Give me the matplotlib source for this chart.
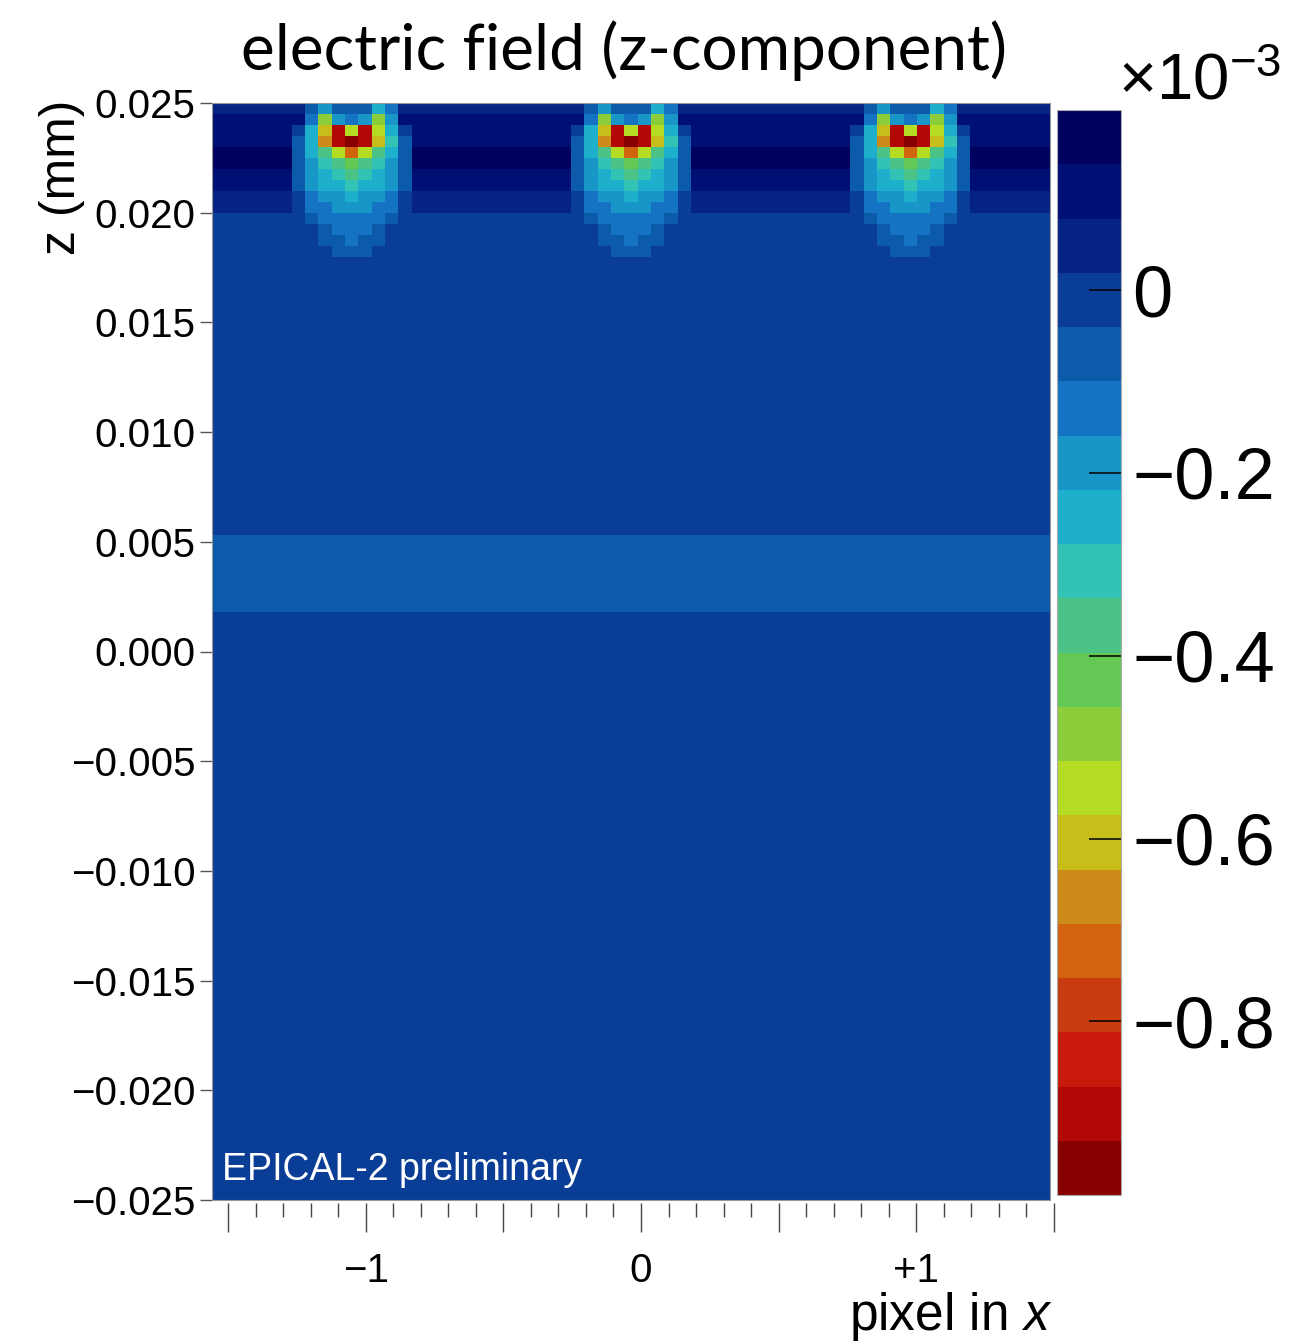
import matplotlib
matplotlib.use("Agg")
import matplotlib.pyplot as plt
import numpy as np
from matplotlib.colors import ListedColormap, BoundaryNorm
from matplotlib.ticker import FixedLocator, MultipleLocator

plt.rcParams['font.family'] = ['Liberation Sans', 'DejaVu Sans']
plt.rcParams['mathtext.fontset'] = 'custom'
plt.rcParams['mathtext.rm'] = 'Liberation Sans'
plt.rcParams['mathtext.it'] = 'Liberation Sans:italic'

# palette levels, lowest (dark red) to highest (navy)
palette = ['#870000', '#b20805', '#c8190a', '#c83c0f', '#d2640f',
           '#cd8c19', '#c8be19', '#b4dc23', '#8ccd3c', '#64c855',
           '#4bc387', '#32c3b4', '#1eafcd', '#1996c8', '#1473c3',
           '#0c5aaa', '#0a3e96', '#052382', '#000f73', '#00005f']
field_min = -0.99   # x 1e-3
field_max = 0.197

# background field of the top rows (0.0005 mm each, from z = 0.025 down)
top_rows_bg = [0.05, 0.11, 0.11, 0.12, 0.17, 0.17, 0.12, 0.10, 0.06, 0.04,
               -0.01, -0.01, -0.01, -0.01]
# background layers below the top rows
layer_edges = [-0.025, 0.0018, 0.0053, 0.018]
layer_values = [-0.01, -0.07, -0.01]

# field under one pixel electrode: columns -5..+5 round its centre,
# same rows as top_rows_bg (nan = background)
nan = float('nan')
hotspot = [
    [nan, nan, -0.07, -0.19, -0.07, -0.07, -0.07, -0.25, -0.13, nan, nan],
    [nan, nan, -0.13, -0.49, -0.19, -0.13, -0.19, -0.49, -0.19, nan, nan],
    [nan, -0.01, -0.25, -0.60, -0.90, -0.55, -0.90, -0.55, -0.25, -0.01, nan],
    [nan, -0.07, -0.25, -0.66, -0.90, -0.96, -0.90, -0.60, -0.31, -0.07, nan],
    [nan, -0.07, -0.25, -0.37, -0.55, -0.72, -0.55, -0.37, -0.25, -0.07, nan],
    [nan, -0.07, -0.19, -0.31, -0.37, -0.43, -0.37, -0.31, -0.19, -0.07, nan],
    [nan, -0.07, -0.19, -0.25, -0.31, -0.37, -0.31, -0.25, -0.19, -0.07, nan],
    [nan, -0.07, -0.19, -0.25, -0.25, -0.31, -0.25, -0.25, -0.19, -0.07, nan],
    [nan, -0.01, -0.13, -0.19, -0.19, -0.25, -0.19, -0.19, -0.13, -0.01, nan],
    [nan, -0.01, -0.13, -0.13, -0.19, -0.19, -0.19, -0.13, -0.13, -0.01, nan],
    [nan, nan, -0.07, -0.13, -0.13, -0.13, -0.13, -0.13, -0.07, nan, nan],
    [nan, nan, nan, -0.07, -0.13, -0.13, -0.13, -0.07, nan, nan, nan],
    [nan, nan, nan, -0.07, -0.07, -0.13, -0.07, -0.07, nan, nan, nan],
    [nan, nan, nan, nan, -0.07, -0.07, -0.07, nan, nan, nan, nan],
]
pixel_centres = [-1, 0, 1]
cols_per_pixel = 21
row_height = 0.0005

y_ticks = [0.025, 0.020, 0.015, 0.010, 0.005, 0.0, -0.005, -0.010,
           -0.015, -0.020, -0.025]
cbar_ticks = [0, -0.2, -0.4, -0.6, -0.8]


def fmt_minus(s):
    return s.replace('-', '\u2212')


# ---- build the grid ----
n_cols = cols_per_pixel * len(pixel_centres)
x_edges = np.linspace(-1.5, 1.5, n_cols + 1)
n_top = len(top_rows_bg)
top_edges = 0.025 - row_height * np.arange(n_top, -1, -1)
z_edges = np.concatenate([layer_edges[:-1], top_edges])

field = np.empty((len(z_edges) - 1, n_cols))
for i, v in enumerate(layer_values):
    field[i, :] = v
n_layers = len(layer_values)
for r in range(n_top):
    field[n_layers + n_top - 1 - r, :] = top_rows_bg[r]

hot = np.array(hotspot, dtype=float)
half = hot.shape[1] // 2
for p in range(len(pixel_centres)):
    c0 = p * cols_per_pixel + cols_per_pixel // 2
    for r in range(n_top):
        zi = n_layers + n_top - 1 - r
        for j in range(hot.shape[1]):
            if not np.isnan(hot[r, j]):
                field[zi, c0 - half + j] = hot[r, j]

cmap = ListedColormap(palette)
norm = BoundaryNorm(np.linspace(field_min, field_max, len(palette) + 1), len(palette))

W, H = 1302, 1342
fig = plt.figure(figsize=(W / 100, H / 100), dpi=100)


def box(x0, y0, x1, y1):
    return [x0 / W, 1 - y1 / H, (x1 - x0) / W, (y1 - y0) / H]


ax = fig.add_axes(box(212, 103, 1050, 1200))
mesh = ax.pcolormesh(x_edges, z_edges, field, cmap=cmap, norm=norm)
ax.set_xlim(-1.5, 1.5)
ax.set_ylim(-0.025, 0.025)
ax.set_xticks([])
ax.set_yticks(y_ticks)
ax.set_yticklabels([fmt_minus(f"{v:.3f}") if abs(v) > 1e-9 else "0.000" for v in y_ticks])
ax.tick_params(axis='y', direction='out', length=9, width=1.0, color='#555555',
               labelsize=29, pad=3)
for s in ax.spines.values():
    s.set_color('#999999')
    s.set_linewidth(0.8)

ax.text(0.012, 0.018, "EPICAL-2 preliminary", transform=ax.transAxes,
        color='white', fontsize=27, va='baseline', ha='left')

# separate x axis, drawn a little offset like in the original
axx = fig.add_axes(box(228, 1202, 1054, 1203))
axx.set_xlim(-1.5, 1.5)
axx.set_yticks([])
for s in axx.spines.values():
    s.set_visible(False)
axx.patch.set_visible(False)
axx.xaxis.set_major_locator(FixedLocator([-1.5, -1, -0.5, 0, 0.5, 1, 1.5]))
axx.set_xticklabels(['', '\u22121', '', '0', '', '+1', ''])
axx.xaxis.set_minor_locator(MultipleLocator(0.1))
axx.tick_params(axis='x', which='major', direction='out', length=21, width=1.0,
                color='#444444', labelsize=29, pad=14)
axx.tick_params(axis='x', which='minor', direction='out', length=10, width=1.0,
                color='#444444')
fig.text(1052 / W, 1 - 1330 / H, "pixel in $x$", fontsize=37, ha='right', va='baseline')

fig.text(62 / W, 1 - 100 / H, "z (mm)", fontsize=36, rotation=90, ha='center', va='top')

fig.text(624 / W, 1 - 70 / H, "electric field (z-component)", family=['Lato', 'DejaVu Sans'],
         fontsize=46, ha='center', va='baseline')

# colour bar
cax = fig.add_axes(box(1057, 110, 1121, 1195))
cb = fig.colorbar(mesh, cax=cax)
cb.set_ticks(cbar_ticks)
cb.set_ticklabels(['0' if t == 0 else fmt_minus(f"{t:.1f}") for t in cbar_ticks])
cax.tick_params(direction='in', length=23, width=1.1, color='black', labelsize=52, pad=8)
cax.minorticks_off()
cb.outline.set_edgecolor('#aaaaaa')
cb.outline.set_linewidth(0.8)
fig.text(1118 / W, 1 - 100 / H, r"$\times10^{-3}$", fontsize=47, ha='left', va='baseline')

fig.savefig("out.png", dpi=100)
